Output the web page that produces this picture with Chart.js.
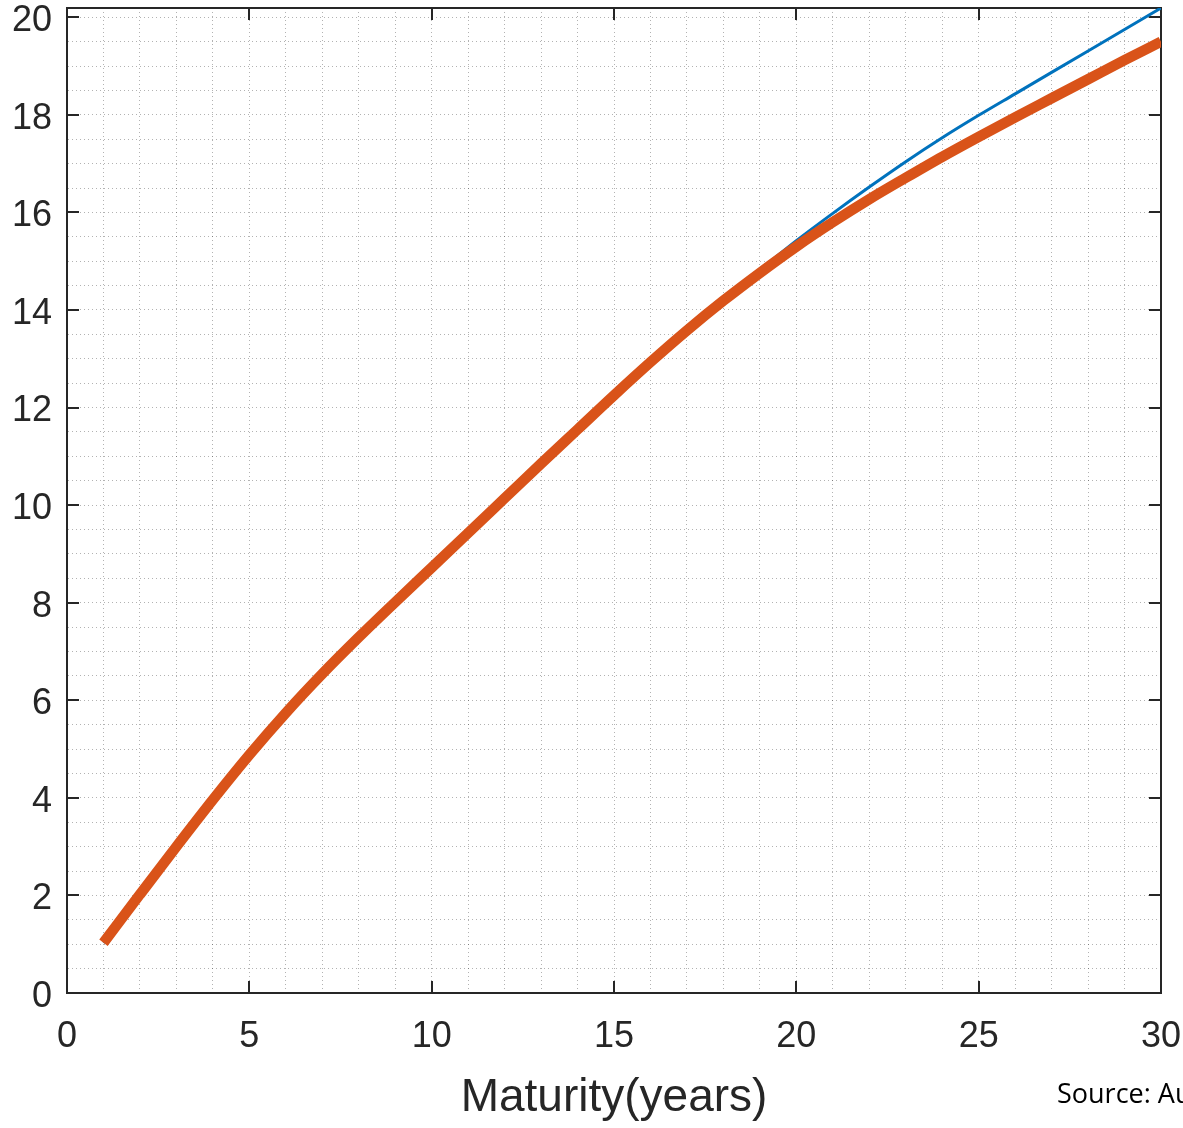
<!DOCTYPE html>
<html>
<head>
<meta charset="utf-8">
<script src="https://cdn.jsdelivr.net/npm/chart.js@4.4.1/dist/chart.umd.min.js"></script>
<style>
html,body{margin:0;padding:0;background:#fff;overflow:hidden;}
#wrap{position:relative;width:1183px;height:1128px;}
#source{position:absolute;left:1057px;top:1074px;font-family:"Open Sans",sans-serif;font-size:27px;color:#000;white-space:nowrap;}
</style>
</head>
<body>
<div id="wrap">
<canvas id="chart" width="1183" height="1128"></canvas>
<div id="source">Source: Au</div>
</div>
<script>
// maturity in years
const years=[1,2,3,4,5,6,7,8,9,10,11,12,13,14,15,16,17,18,19,20,21,22,23,24,25,26,27,28,29,30];

// thick orange curve
const orangeVals=[1.03,2.02,3.00,3.96,4.88,5.74,6.54,7.29,8.01,8.72,9.43,10.14,10.85,11.55,12.25,12.93,13.58,14.19,14.76,15.30,15.80,16.27,16.71,17.14,17.55,17.95,18.34,18.73,19.12,19.50];

// thin blue curve (hidden under orange until ~18y)
const blueVals=[1.03,2.02,3.00,3.96,4.88,5.74,6.54,7.29,8.01,8.72,9.43,10.14,10.85,11.55,12.25,12.93,13.59,14.22,14.82,15.42,15.98,16.52,17.04,17.53,17.99,18.43,18.87,19.31,19.75,20.19];

const xMajor=[0,5,10,15,20,25,30];
const yMajor=[0,2,4,6,8,10,12,14,16,18,20];

const ink='#262626';

const framePlugin={
id:'frame',
beforeDatasetsDraw(chart){
const ctx=chart.ctx;
const a=chart.chartArea;
const xs=chart.scales.x;
const ys=chart.scales.y;
ctx.save();
ctx.strokeStyle=ink;
ctx.lineWidth=2;
// top and right sides of the box
ctx.beginPath();
ctx.moveTo(a.left,a.top);
ctx.lineTo(a.right,a.top);
ctx.lineTo(a.right,a.bottom);
ctx.stroke();
// inward tick marks
const tl=12;
ctx.beginPath();
xMajor.forEach(v=>{
const px=Math.round(xs.getPixelForValue(v));
ctx.moveTo(px,a.bottom);ctx.lineTo(px,a.bottom-tl);
ctx.moveTo(px,a.top);ctx.lineTo(px,a.top+tl);
});
yMajor.forEach(v=>{
const py=Math.round(ys.getPixelForValue(v));
ctx.moveTo(a.left,py);ctx.lineTo(a.left+tl,py);
ctx.moveTo(a.right,py);ctx.lineTo(a.right-tl,py);
});
ctx.stroke();
ctx.restore();
}
};

const gridDots={color:'rgba(0,0,0,0.3)',lineWidth:1,drawTicks:false};
const tickFont={family:'"Liberation Sans", Arial, sans-serif',size:36};

new Chart(document.getElementById('chart'),{
type:'line',
data:{
datasets:[
{
label:'orange',
data:years.map((x,i)=>({x:x,y:orangeVals[i]})),
borderColor:'#D95319',
borderWidth:10.5,
borderCapStyle:'butt',
pointRadius:0,
cubicInterpolationMode:'monotone',
fill:false
},
{
label:'blue',
data:years.map((x,i)=>({x:x,y:blueVals[i]})),
borderColor:'#0072BD',
borderWidth:3,
pointRadius:0,
cubicInterpolationMode:'monotone',
fill:false
}
]
},
options:{
responsive:false,
animation:false,
devicePixelRatio:1,
layout:{padding:{top:8,right:22,left:0,bottom:0}},
plugins:{legend:{display:false},tooltip:{enabled:false}},
scales:{
x:{
type:'linear',
min:0,
max:30,
grid:gridDots,
border:{display:true,color:ink,width:2,dash:[1,3]},
ticks:{
stepSize:1,
autoSkip:false,
includeBounds:false,
maxRotation:0,
padding:22,
color:ink,
font:tickFont,
callback:v=>(xMajor.includes(v)?String(v):'')
},
title:{
display:true,
text:'Maturity(years)',
color:ink,
font:{family:'"Liberation Sans", Arial, sans-serif',size:46},
padding:{top:0,bottom:2}
},
afterFit(s){s.height=135;s.paddingLeft=0;s.paddingRight=0;}
},
y:{
type:'linear',
min:0,
max:20.19,
grid:gridDots,
border:{display:true,color:ink,width:2,dash:[1,3]},
ticks:{
stepSize:0.5,
autoSkip:false,
includeBounds:false,
padding:15,
labelOffset:4,
color:ink,
font:tickFont,
callback:v=>(yMajor.includes(v)?String(v):'')
},
afterFit(s){s.width=67;s.paddingTop=0;s.paddingBottom=0;}
}
}
},
plugins:[framePlugin]
});
</script>
</body>
</html>
